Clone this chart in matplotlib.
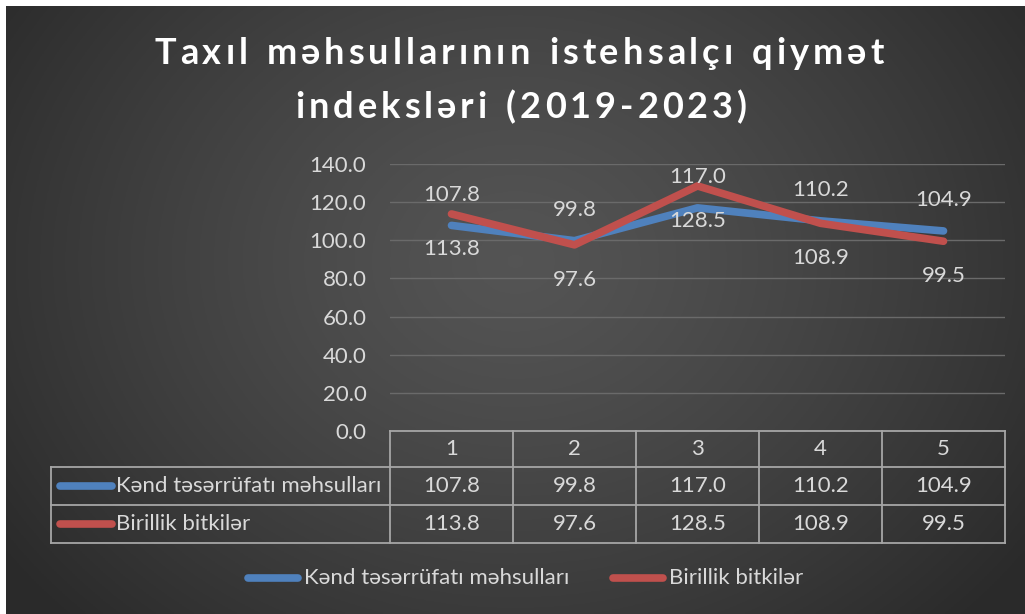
import numpy as np
import matplotlib
matplotlib.use("Agg")
import matplotlib.pyplot as plt
from matplotlib.lines import Line2D

# ---------------- data ----------------
categories = ["1", "2", "3", "4", "5"]
series_names = ["Kənd təsərrüfatı məhsulları", "Birillik bitkilər"]
kend_values = [107.8, 99.8, 117.0, 110.2, 104.9]
birillik_values = [113.8, 97.6, 128.5, 108.9, 99.5]
title_lines = ["Taxıl məhsullarının istehsalçı qiymət", "indeksləri (2019-2023)"]
y_ticks = [0, 20, 40, 60, 80, 100, 120, 140]

BLUE = "#4F81BD"
RED = "#C0504D"
TXT = "#D9D9D9"
GRID = "#6a6a6a"
TBL = "#a6a6a6"
FONT = "Lato"
FS = 16

W, H = 1025, 614
fig = plt.figure(figsize=(W / 100, H / 100), dpi=100, facecolor="white")

def fx(px):
    return px / W

def fy(py):
    return 1 - py / H

# ---------------- background (radial gradient) ----------------
bg = fig.add_axes([fx(6), 0, 1 - fx(6), fy(6)])
bg.set_axis_off()
nx, ny = 400, 240
xx, yy = np.meshgrid(np.linspace(0, 1, nx), np.linspace(0, 1, ny))
r = np.sqrt(((xx - 0.5) / 0.62) ** 2 + ((yy - 0.42) / 0.85) ** 2)
r = np.clip(r, 0, 1)
c0, c1 = 0.33, 0.165
img = c0 + (c1 - c0) * r ** 1.3
bg.imshow(np.dstack([img, img, img]), extent=[0, 1, 0, 1], aspect="auto", origin="upper")
bg.set_xlim(0, 1)
bg.set_ylim(0, 1)

# ---------------- plot area ----------------
left_px, right_px, top_px, bottom_px = 390, 1005, 164, 431
ax = fig.add_axes([fx(left_px), fy(bottom_px), fx(right_px - left_px), fy(top_px) - fy(bottom_px)])
ax.set_facecolor("none")
x = np.arange(1, len(categories) + 1)
ax.set_xlim(0.5, len(categories) + 0.5)
ax.set_ylim(0, 140)
ax.set_yticks(y_ticks)
ax.set_yticklabels([f"{v:.1f}" for v in y_ticks], color=TXT, fontsize=FS, family=FONT)
ax.tick_params(axis="y", length=0, pad=17)
ax.set_xticks([])
for s in ax.spines.values():
    s.set_visible(False)
ax.grid(axis="y", color=GRID, linewidth=1.0)
ax.set_axisbelow(True)

ax.plot(x, kend_values, color=BLUE, linewidth=5.5, solid_capstyle="round",
        solid_joinstyle="round", clip_on=False, zorder=3)
ax.plot(x, birillik_values, color=RED, linewidth=5.5, solid_capstyle="round",
        solid_joinstyle="round", clip_on=False, zorder=4)

for xi, v in zip(x, kend_values):
    ax.annotate(f"{v:.1f}", (xi, v), xytext=(0, 22), textcoords="offset points",
                ha="center", va="center", color=TXT, fontsize=FS, family=FONT, zorder=5)
for xi, v in zip(x, birillik_values):
    ax.annotate(f"{v:.1f}", (xi, v), xytext=(0, -25), textcoords="offset points",
                ha="center", va="center", color=TXT, fontsize=FS, family=FONT, zorder=5)

# ---------------- data table ----------------
col_edges = np.linspace(left_px, right_px, len(categories) + 1)
row_edges = [431, 467, 505, 543]
lab_left = 51

def hline(y, x0, x1):
    fig.add_artist(Line2D([fx(x0), fx(x1)], [fy(y), fy(y)], color=TBL, linewidth=1.3))

def vline(xp, y0, y1):
    fig.add_artist(Line2D([fx(xp), fx(xp)], [fy(y0), fy(y1)], color=TBL, linewidth=1.3))

hline(row_edges[0], left_px, right_px)
for yy_ in row_edges[1:]:
    hline(yy_, lab_left, right_px)
for xp in col_edges:
    vline(xp, row_edges[0], row_edges[-1])
vline(lab_left, row_edges[1], row_edges[-1])

centers = (col_edges[:-1] + col_edges[1:]) / 2
rc = [(row_edges[i] + row_edges[i + 1]) / 2 for i in range(3)]
for c, cat in zip(centers, categories):
    fig.text(fx(c), fy(rc[0]), cat, ha="center", va="center", color=TXT, fontsize=FS, family=FONT)
for row, vals in ((1, kend_values), (2, birillik_values)):
    for c, v in zip(centers, vals):
        fig.text(fx(c), fy(rc[row]), f"{v:.1f}", ha="center", va="center", color=TXT,
                 fontsize=FS, family=FONT)

for row, name, col in ((1, series_names[0], BLUE), (2, series_names[1], RED)):
    fig.add_artist(Line2D([fx(60), fx(112)], [fy(rc[row]), fy(rc[row])], color=col,
                          linewidth=5.5, solid_capstyle="round"))
    fig.text(fx(116), fy(rc[row]), name, ha="left", va="center", color=TXT, fontsize=FS, family=FONT)

# ---------------- legend ----------------
leg_y = 578
for x0, name, col in ((248, series_names[0], BLUE), (613, series_names[1], RED)):
    fig.add_artist(Line2D([fx(x0), fx(x0 + 50)], [fy(leg_y), fy(leg_y)], color=col,
                          linewidth=5.5, solid_capstyle="round"))
    fig.text(fx(x0 + 56), fy(leg_y), name, ha="left", va="center", color=TXT, fontsize=FS, family=FONT)

# ---------------- title with letter spacing ----------------
renderer = fig.canvas.get_renderer()

def spaced_text(s, cx, cy, size, track):
    widths = []
    for ch in s:
        if ch == " ":
            t = fig.text(0, 0, "n", fontsize=size, family=FONT, weight="bold")
            w = t.get_window_extent(renderer).width * 0.55
        else:
            t = fig.text(0, 0, ch, fontsize=size, family=FONT, weight="bold")
            w = t.get_window_extent(renderer).width
        t.remove()
        widths.append(w)
    total = sum(widths) + track * (len(s) - 1)
    xp = cx - total / 2
    for ch, w in zip(s, widths):
        if ch != " ":
            fig.text(fx(xp), fy(cy), ch, fontsize=size, family=FONT, weight="bold",
                     color="white", ha="left", va="baseline")
        xp += w + track

spaced_text(title_lines[0], 519, 64, 26, 4.0)
spaced_text(title_lines[1], 521, 118, 26, 4.0)

fig.savefig("out.png", dpi=100, facecolor=fig.get_facecolor())
